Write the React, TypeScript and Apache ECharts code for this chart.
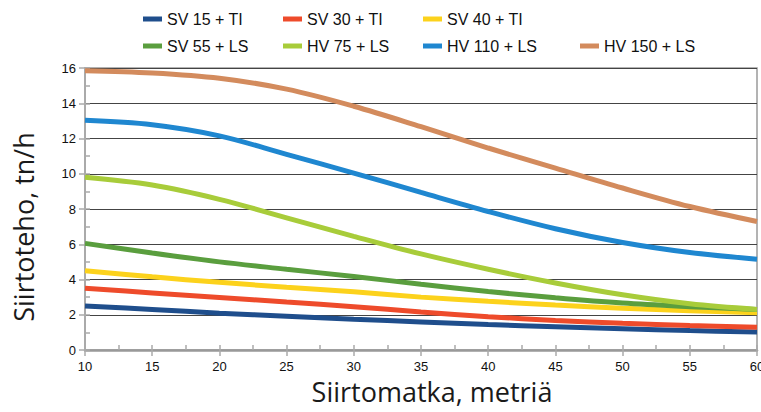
import React, { useEffect, useRef } from "react";
import * as echarts from "echarts";

const distances = [10, 15, 20, 25, 30, 35, 40, 45, 50, 55, 60];

const seriesNames = [
  "SV 15 + TI",
  "SV 30 + TI",
  "SV 40 + TI",
  "SV 55 + LS",
  "HV 75 + LS",
  "HV 110 + LS",
  "HV 150 + LS",
];

const sv15 = [2.5, 2.3, 2.09, 1.92, 1.75, 1.59, 1.44, 1.32, 1.21, 1.1, 1.02];
const sv30 = [3.5, 3.24, 2.98, 2.72, 2.46, 2.16, 1.89, 1.68, 1.52, 1.39, 1.29];
const sv40 = [4.5, 4.15, 3.84, 3.56, 3.3, 3.0, 2.76, 2.55, 2.37, 2.23, 2.12];
const sv55 = [6.05, 5.5, 5.0, 4.58, 4.17, 3.73, 3.32, 2.96, 2.66, 2.46, 2.3];
const hv75 = [9.8, 9.36, 8.55, 7.5, 6.45, 5.45, 4.58, 3.8, 3.13, 2.62, 2.3];
const hv110 = [13.03, 12.78, 12.15, 11.1, 10.04, 8.94, 7.86, 6.88, 6.1, 5.53, 5.15];
const hv150 = [15.85, 15.72, 15.42, 14.8, 13.83, 12.67, 11.46, 10.32, 9.19, 8.14, 7.29];

const allValues = [sv15, sv30, sv40, sv55, hv75, hv110, hv150];

const colors = ["#1f4e8c", "#ee4b2b", "#fcd21c", "#5a9e3e", "#a8cc3a", "#1f87d0", "#d38b5d"];

const legendPos = [
  { left: 143, top: 11 },
  { left: 283, top: 11 },
  { left: 423, top: 11 },
  { left: 143, top: 38 },
  { left: 283, top: 38 },
  { left: 423, top: 38 },
  { left: 580, top: 38 },
];

export default function App() {
  const ref = useRef<HTMLDivElement>(null);
  useEffect(() => {
    if (!ref.current) return;
    const chart = echarts.init(ref.current, null, { renderer: "svg" });
    const labelFont = "'Liberation Sans', Arial, sans-serif";
    const titleFont = "'Open Sans', 'Noto Sans', sans-serif";
    const option: any = {
      animation: false,
      backgroundColor: "#ffffff",
      legend: seriesNames.map((n, i) => ({
        data: [n],
        left: legendPos[i].left,
        top: legendPos[i].top,
        padding: 0,
        icon: "rect",
        itemWidth: 19,
        itemHeight: 5,
        selectedMode: false,
        textStyle: { fontFamily: labelFont, fontSize: 16, color: "#111" },
      })),
      grid: {
        left: 85,
        right: 4,
        top: 68,
        bottom: 62,
        show: true,
        borderColor: "#9a9a9a",
        borderWidth: 1.5,
        containLabel: false,
        outerBoundsMode: "none",
      },
      xAxis: [
        {
          type: "value",
          min: 10,
          max: 60,
          interval: 5,
          name: "Siirtomatka, metriä",
          nameLocation: "middle",
          nameGap: 28,
          nameTextStyle: {
            fontFamily: titleFont,
            fontSize: 27,
            color: "#1a1a1a",
            padding: [0, 0, 0, 22],
          },
          axisLine: { show: true, lineStyle: { color: "#999", width: 2.5 } },
          axisTick: { show: true, length: 6, lineStyle: { color: "#aaa", width: 1.5 } },
          axisLabel: { fontFamily: labelFont, fontSize: 13, color: "#111", margin: 10 },
          splitLine: { show: false },
        },
        {
          type: "value",
          min: 10,
          max: 60,
          interval: 2.5,
          position: "bottom",
          axisLine: { show: false },
          axisTick: { show: true, inside: true, length: 5, lineStyle: { color: "#aaa", width: 1.5 } },
          axisLabel: { show: false },
          splitLine: { show: false },
        },
      ],
      yAxis: [
        {
          type: "value",
          min: 0,
          max: 16,
          interval: 2,
          name: "Siirtoteho, tn/h",
          nameLocation: "middle",
          nameGap: 48,
          nameTextStyle: {
            fontFamily: titleFont,
            fontSize: 27,
            color: "#1a1a1a",
            padding: [0, 36, 0, 0],
          },
          axisLine: { show: true, lineStyle: { color: "#aaa", width: 2 } },
          axisTick: { show: true, length: 6, lineStyle: { color: "#aaa", width: 1.5 } },
          axisLabel: { fontFamily: labelFont, fontSize: 13, color: "#111", margin: 9 },
          splitLine: { show: true, lineStyle: { color: "#444", width: 1.2 } },
        },
        {
          type: "value",
          min: 0,
          max: 16,
          interval: 1,
          position: "left",
          axisLine: { show: false },
          axisTick: { show: true, inside: true, length: 5, lineStyle: { color: "#aaa", width: 1.5 } },
          axisLabel: { show: false },
          splitLine: { show: false },
        },
      ],
      series: seriesNames.map((n, i) => ({
        name: n,
        type: "line",
        xAxisIndex: 0,
        yAxisIndex: 0,
        smooth: 0.35,
        showSymbol: false,
        symbol: "none",
        color: colors[i],
        lineStyle: { width: 5, color: colors[i] },
        data: distances.map((d, j) => [d, allValues[i][j]]),
      })),
    };
    chart.setOption(option);
    return () => chart.dispose();
  }, []);
  return <div ref={ref} style={{ width: 761, height: 412, position: "absolute", left: 0, top: 0 }} />;
}
